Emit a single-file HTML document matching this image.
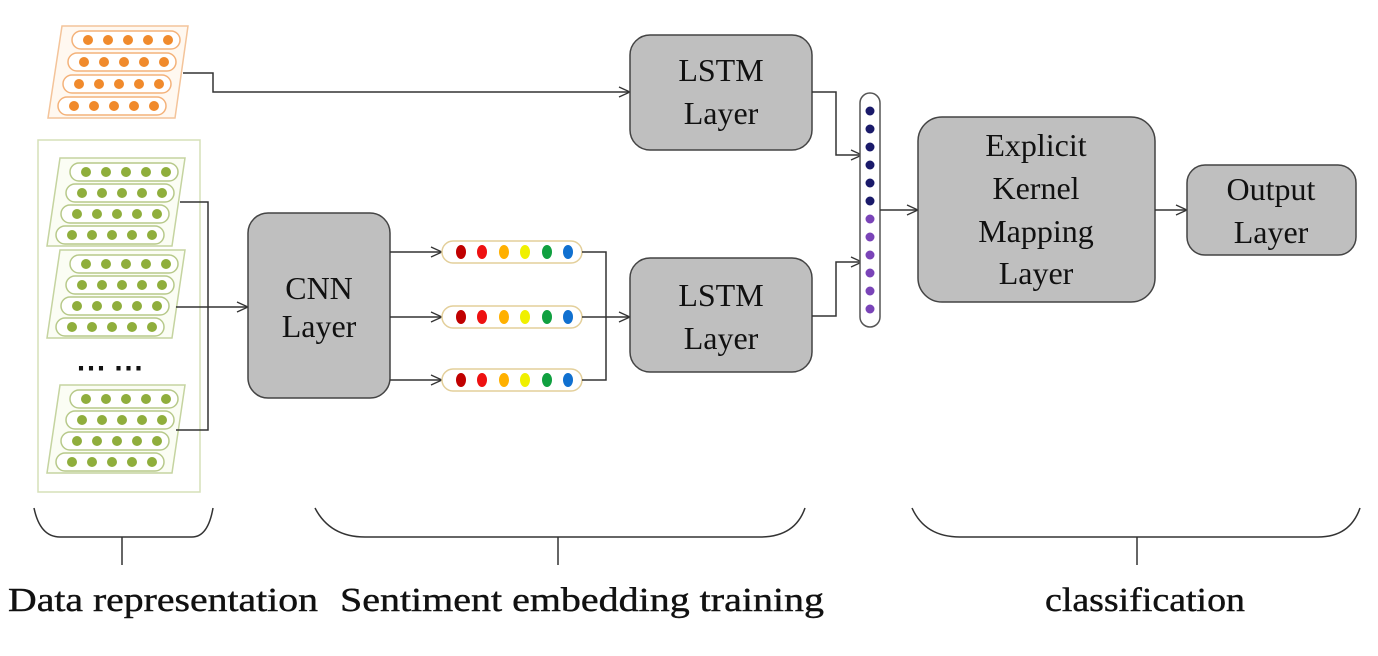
<!DOCTYPE html>
<html><head><meta charset="utf-8"><style>
html,body{margin:0;padding:0;background:#fff;}
svg{display:block;}
text{font-family:"Liberation Serif",serif;fill:#111;}
</style></head><body>
<svg width="1378" height="656" viewBox="0 0 1378 656" xmlns="http://www.w3.org/2000/svg">
<defs>
<marker id="ar" markerWidth="14" markerHeight="12" refX="12" refY="6" orient="auto" markerUnits="userSpaceOnUse">
<path d="M1,1 L12,6 L1,11" fill="none" stroke="#333" stroke-width="1.3"/>
</marker>
<g id="orow">
<rect x="0" y="-9" width="108" height="18" rx="9" fill="#fff" stroke="#f4b27a" stroke-width="1.5"/>
<circle cx="16" cy="0" r="5" fill="#f08a2c"/><circle cx="36" cy="0" r="5" fill="#f08a2c"/><circle cx="56" cy="0" r="5" fill="#f08a2c"/><circle cx="76" cy="0" r="5" fill="#f08a2c"/><circle cx="96" cy="0" r="5" fill="#f08a2c"/>
</g>
<g id="grow">
<rect x="0" y="-9" width="108" height="18" rx="9" fill="#fff" stroke="#b7c98a" stroke-width="1.5"/>
<circle cx="16" cy="0" r="5" fill="#8fae3c"/><circle cx="36" cy="0" r="5" fill="#8fae3c"/><circle cx="56" cy="0" r="5" fill="#8fae3c"/><circle cx="76" cy="0" r="5" fill="#8fae3c"/><circle cx="96" cy="0" r="5" fill="#8fae3c"/>
</g>
<g id="gpara">
<polygon points="60,0 185,0 172,88 47,88" fill="#fbfdf4" stroke="#c5d4a0" stroke-width="1.5"/>
<use href="#grow" x="70" y="14"/>
<use href="#grow" x="66" y="35"/>
<use href="#grow" x="61" y="56"/>
<use href="#grow" x="56" y="77"/>
</g>
<g id="cpill">
<rect x="0" y="-11" width="140" height="22" rx="11" fill="#fff" stroke="#e3cf9a" stroke-width="1.5"/>
<ellipse cx="19" cy="0" rx="5" ry="7" fill="#c00000"/>
<ellipse cx="40" cy="0" rx="5" ry="7" fill="#ee1111"/>
<ellipse cx="62" cy="0" rx="5" ry="7" fill="#ffb000"/>
<ellipse cx="83" cy="0" rx="5" ry="7" fill="#f0f000"/>
<ellipse cx="105" cy="0" rx="5" ry="7" fill="#10a040"/>
<ellipse cx="126" cy="0" rx="5" ry="7" fill="#1070d0"/>
</g>
</defs>

<polygon points="62,26 188,26 175,118 48,118" fill="#fff8f0" stroke="#f4c49a" stroke-width="1.5"/>
<use href="#orow" x="72" y="40"/>
<use href="#orow" x="68" y="62"/>
<use href="#orow" x="63" y="84"/>
<use href="#orow" x="58" y="106"/>
<polyline points="183,73 213,73 213,92 630,92" fill="none" stroke="#333" stroke-width="1.5" marker-end="url(#ar)"/>

<rect x="38" y="140" width="162" height="352" fill="#fff" stroke="#d6e0b8" stroke-width="1.5"/>
<use href="#gpara" x="0" y="158"/>
<use href="#gpara" x="0" y="250"/>
<text x="76" y="378" font-size="30" font-weight="bold">⋯ ⋯</text>
<use href="#gpara" x="0" y="385"/>
<polyline points="180,202 208,202 208,430 176,430" fill="none" stroke="#333" stroke-width="1.5"/>
<line x1="176" y1="307" x2="248" y2="307" stroke="#333" stroke-width="1.5" marker-end="url(#ar)"/>

<rect x="248" y="213" width="142" height="185" rx="20" fill="#bfbfbf" stroke="#444" stroke-width="1.5"/>
<text x="319" y="299" font-size="32" text-anchor="middle">CNN</text>
<text x="319" y="337" font-size="32" text-anchor="middle">Layer</text>

<line x1="390" y1="252" x2="442" y2="252" stroke="#333" stroke-width="1.5" marker-end="url(#ar)"/>
<line x1="390" y1="317" x2="442" y2="317" stroke="#333" stroke-width="1.5" marker-end="url(#ar)"/>
<line x1="390" y1="380" x2="442" y2="380" stroke="#333" stroke-width="1.5" marker-end="url(#ar)"/>
<use href="#cpill" x="442" y="252"/>
<use href="#cpill" x="442" y="317"/>
<use href="#cpill" x="442" y="380"/>
<polyline points="582,252 606,252 606,380 582,380" fill="none" stroke="#333" stroke-width="1.5"/>
<line x1="582" y1="317" x2="630" y2="317" stroke="#333" stroke-width="1.5" marker-end="url(#ar)"/>

<rect x="630" y="35" width="182" height="115" rx="20" fill="#bfbfbf" stroke="#444" stroke-width="1.5"/>
<text x="721" y="81" font-size="32" text-anchor="middle">LSTM</text>
<text x="721" y="124" font-size="32" text-anchor="middle">Layer</text>
<rect x="630" y="258" width="182" height="114" rx="20" fill="#bfbfbf" stroke="#444" stroke-width="1.5"/>
<text x="721" y="306" font-size="32" text-anchor="middle">LSTM</text>
<text x="721" y="349" font-size="32" text-anchor="middle">Layer</text>

<polyline points="812,92 836,92 836,155 862,155" fill="none" stroke="#333" stroke-width="1.5" marker-end="url(#ar)"/>
<polyline points="812,316 836,316 836,262 862,262" fill="none" stroke="#333" stroke-width="1.5" marker-end="url(#ar)"/>

<rect x="860" y="93" width="20" height="234" rx="10" fill="#fff" stroke="#555" stroke-width="1.5"/>
<g fill="#1a1a6a">
<circle cx="870" cy="111" r="4.5"/><circle cx="870" cy="129" r="4.5"/><circle cx="870" cy="147" r="4.5"/><circle cx="870" cy="165" r="4.5"/><circle cx="870" cy="183" r="4.5"/><circle cx="870" cy="201" r="4.5"/>
</g>
<g fill="#7a44b8">
<circle cx="870" cy="219" r="4.5"/><circle cx="870" cy="237" r="4.5"/><circle cx="870" cy="255" r="4.5"/><circle cx="870" cy="273" r="4.5"/><circle cx="870" cy="291" r="4.5"/><circle cx="870" cy="309" r="4.5"/>
</g>
<line x1="880" y1="210" x2="918" y2="210" stroke="#333" stroke-width="1.5" marker-end="url(#ar)"/>

<rect x="918" y="117" width="237" height="185" rx="24" fill="#bfbfbf" stroke="#444" stroke-width="1.5"/>
<text x="1036" y="156" font-size="32" text-anchor="middle">Explicit</text>
<text x="1036" y="199" font-size="32" text-anchor="middle">Kernel</text>
<text x="1036" y="242" font-size="32" text-anchor="middle">Mapping</text>
<text x="1036" y="284" font-size="32" text-anchor="middle">Layer</text>
<line x1="1155" y1="210" x2="1187" y2="210" stroke="#333" stroke-width="1.5" marker-end="url(#ar)"/>
<rect x="1187" y="165" width="169" height="90" rx="18" fill="#bfbfbf" stroke="#444" stroke-width="1.5"/>
<text x="1271" y="200" font-size="32" text-anchor="middle">Output</text>
<text x="1271" y="243" font-size="32" text-anchor="middle">Layer</text>

<g fill="none" stroke="#333" stroke-width="1.5">
<path d="M34,508 Q40,537 60,537 L192,537 Q208,537 213,508"/>
<line x1="122" y1="537" x2="122" y2="565"/>
<path d="M315,508 Q330,537 365,537 L760,537 Q795,537 805,508"/>
<line x1="558" y1="537" x2="558" y2="565"/>
<path d="M912,508 Q925,537 960,537 L1318,537 Q1350,537 1360,508"/>
<line x1="1137" y1="537" x2="1137" y2="565"/>
</g>
<g stroke="#111" stroke-width="0.4">
<text x="8" y="611" font-size="34" textLength="310" lengthAdjust="spacingAndGlyphs">Data representation</text>
<text x="340" y="611" font-size="34" textLength="484" lengthAdjust="spacingAndGlyphs">Sentiment embedding training</text>
<text x="1045" y="611" font-size="34" textLength="200" lengthAdjust="spacingAndGlyphs">classification</text>
</g>
</svg>
</body></html>
